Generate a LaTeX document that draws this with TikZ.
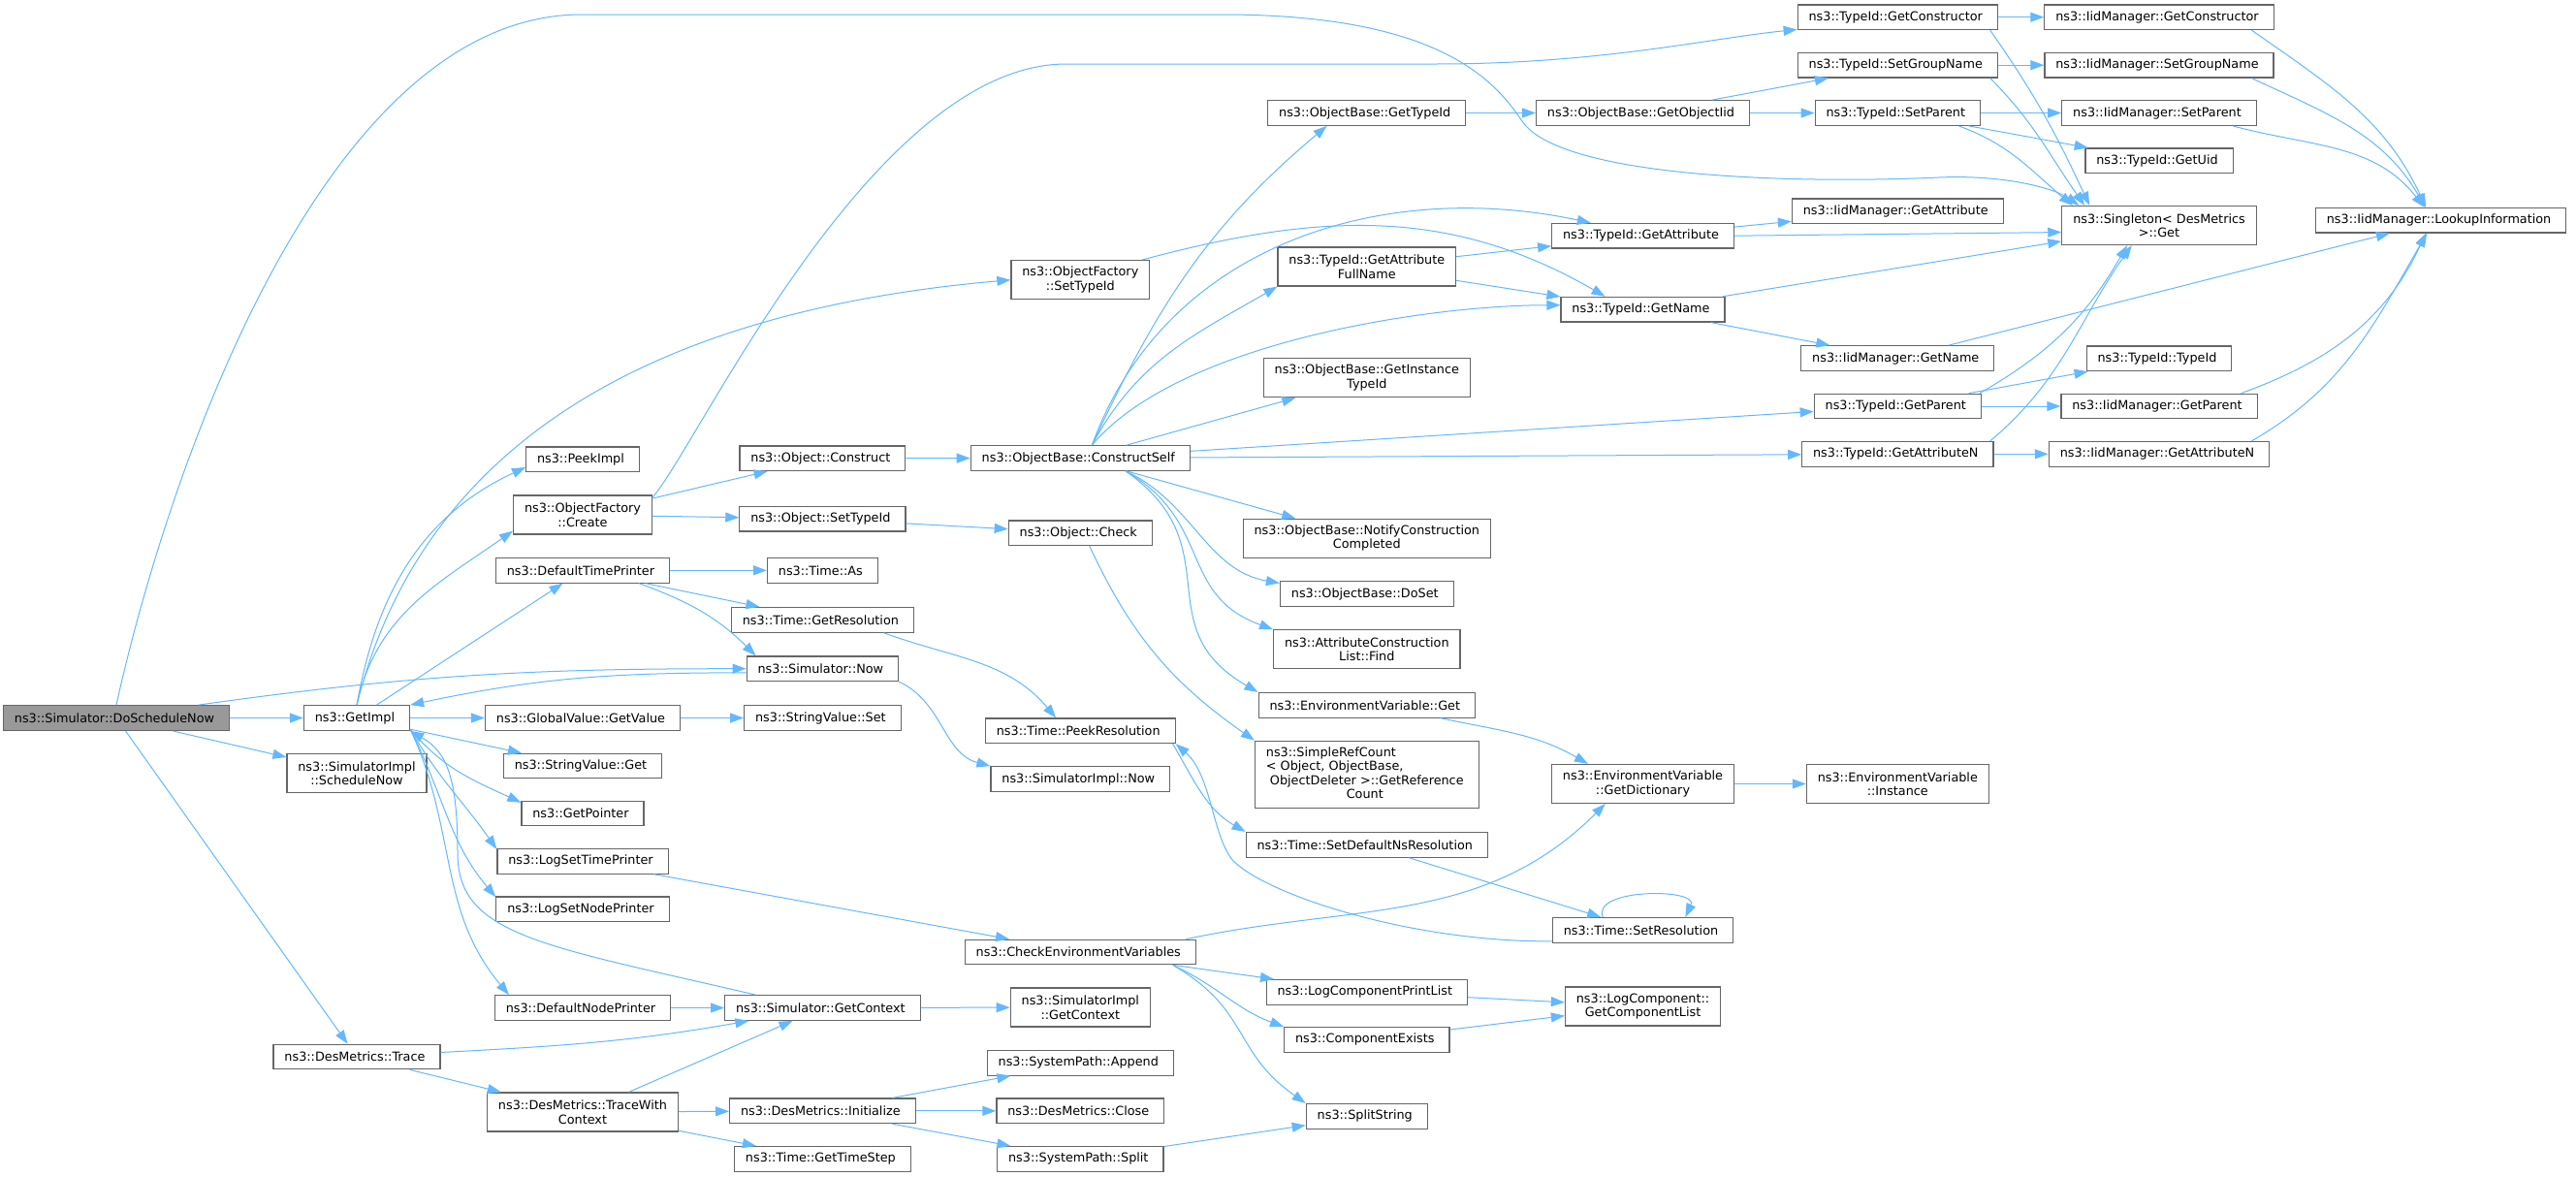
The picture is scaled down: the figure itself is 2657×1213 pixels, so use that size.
\documentclass[tikz,border=0pt]{standalone}
\usepackage{fontspec}
\setmainfont{DejaVu Sans}
\usetikzlibrary{arrows.meta}

\begin{document}
\begin{tikzpicture}[x=1pt,y=1pt,
    fnbox/.style={shape=rectangle,draw=cg_border,line width=1.2pt,fill=white,inner xsep=11.4pt,inner ysep=1pt,minimum height=25.6pt,align=center,font=\fontsize{12.8}{14.5}\selectfont},
    fnboxB/.style={fnbox,minimum height=40pt},
    fnboxD/.style={fnbox,minimum height=69.4pt},
    rootbox/.style={fnbox,fill=cg_root},
    call/.style={draw=cg_edge,line width=1pt,-{Triangle[length=14pt,width=10pt]}}]
    \definecolor{cg_edge}{RGB}{99,184,255}
    \definecolor{cg_border}{RGB}{102,102,102}
    \definecolor{cg_root}{RGB}{153,153,153}
    \useasboundingbox (0,0) rectangle (2657,-1213);
    \node[rootbox] (dsn)        at (120,-740.5)    { ns3::Simulator::DoScheduleNow };
    \node[fnbox]   (getimpl)    at (368,-740.5)    { ns3::GetImpl };
    \node[fnboxB]  (schednow)   at (368,-797.7)    { ns3::SimulatorImpl\\::ScheduleNow };
    \node[fnbox]   (dmtrace)    at (368,-1090)     { ns3::DesMetrics::Trace };
    \node[fnbox]   (peekimpl)   at (601,-473.7)    { ns3::PeekImpl };
    \node[fnboxB]  (ofcreate)   at (601,-531)      { ns3::ObjectFactory\\::Create };
    \node[fnbox]   (dtprinter)  at (601,-588.3)    { ns3::DefaultTimePrinter };
    \node[fnbox]   (gvget)      at (601,-740.5)    { ns3::GlobalValue::GetValue };
    \node[fnbox]   (svget)      at (601,-790)      { ns3::StringValue::Get };
    \node[fnbox]   (getptr)     at (601,-839)      { ns3::GetPointer };
    \node[fnbox]   (lstp)       at (601,-888.3)    { ns3::LogSetTimePrinter };
    \node[fnbox]   (lsnp)       at (601,-937.8)    { ns3::LogSetNodePrinter };
    \node[fnbox]   (dnprinter)  at (601,-1039.5)   { ns3::DefaultNodePrinter };
    \node[fnboxB]  (twc)        at (601,-1147)     { ns3::DesMetrics::TraceWith\\Context };
    \node[fnbox]   (oconstruct) at (848.4,-472.7)  { ns3::Object::Construct };
    \node[fnbox]   (osettid)    at (848.4,-535.2)  { ns3::Object::SetTypeId };
    \node[fnbox]   (timeas)     at (848.4,-588.3)  { ns3::Time::As };
    \node[fnbox]   (getres)     at (848.4,-639.3)  { ns3::Time::GetResolution };
    \node[fnbox]   (simnow)     at (848.4,-689.7)  { ns3::Simulator::Now };
    \node[fnbox]   (svset)      at (848.4,-740.5)  { ns3::StringValue::Set };
    \node[fnbox]   (getctx)     at (848.4,-1039.5) { ns3::Simulator::GetContext };
    \node[fnbox]   (dminit)     at (848.4,-1145.8) { ns3::DesMetrics::Initialize };
    \node[fnbox]   (timestep)   at (848.4,-1195.3) { ns3::Time::GetTimeStep };
    \node[fnboxB]  (ofsettid)   at (1114.3,-288.7) { ns3::ObjectFactory\\::SetTypeId };
    \node[fnbox]   (cself)      at (1114.3,-472.5) { ns3::ObjectBase::ConstructSelf };
    \node[fnbox]   (ocheck)     at (1114.3,-549.7) { ns3::Object::Check };
    \node[fnbox]   (peekres)    at (1114.3,-753.8) { ns3::Time::PeekResolution };
    \node[fnbox]   (siminow)    at (1114.3,-803.5) { ns3::SimulatorImpl::Now };
    \node[fnbox]   (checkenv)   at (1114.3,-982)   { ns3::CheckEnvironmentVariables };
    \node[fnboxB]  (simictx)    at (1114.3,-1039)  { ns3::SimulatorImpl\\::GetContext };
    \node[fnbox]   (spappend)   at (1114.3,-1096.3){ ns3::SystemPath::Append };
    \node[fnbox]   (dmclose)    at (1114.3,-1145.8){ ns3::DesMetrics::Close };
    \node[fnbox]   (spsplit)    at (1114.3,-1195.3){ ns3::SystemPath::Split };
    \node[fnbox]   (obgettid)   at (1409.8,-116.5) { ns3::ObjectBase::GetTypeId };
    \node[fnboxB]  (attrfull)   at (1409.8,-275)   { ns3::TypeId::GetAttribute\\FullName };
    \node[fnboxB]  (instid)     at (1409.8,-389.7) { ns3::ObjectBase::GetInstance\\TypeId };
    \node[fnboxB]  (notify)     at (1409.8,-555.2) { ns3::ObjectBase::NotifyConstruction\\Completed };
    \node[fnbox]   (doset)      at (1409.8,-612.5) { ns3::ObjectBase::DoSet };
    \node[fnboxB]  (aclfind)    at (1409.8,-669.8) { ns3::AttributeConstruction\\List::Find };
    \node[fnbox]   (envget)     at (1409.8,-727.3) { ns3::EnvironmentVariable::Get };
    \node[fnboxD]  (refcount)   at (1409.8,-799)   { \begin{tabular}{@{}l@{}}ns3::SimpleRefCount\\< Object, ObjectBase,\\\ ObjectDeleter >::GetReference\\\multicolumn{1}{@{}c@{}}{Count}\end{tabular} };
    \node[fnbox]   (setdefres)  at (1409.8,-871.3) { ns3::Time::SetDefaultNsResolution };
    \node[fnbox]   (lcprint)    at (1409.8,-1023.3){ ns3::LogComponentPrintList };
    \node[fnbox]   (compexists) at (1409.8,-1072.3){ ns3::ComponentExists };
    \node[fnbox]   (splitstr)   at (1409.8,-1151.3){ ns3::SplitString };
    \node[fnbox]   (getobjiid)  at (1694.5,-116.5) { ns3::ObjectBase::GetObjectIid };
    \node[fnbox]   (tgetattr)   at (1694.5,-243.2) { ns3::TypeId::GetAttribute };
    \node[fnbox]   (tgetname)   at (1694.5,-319.2) { ns3::TypeId::GetName };
    \node[fnboxB]  (getdict)    at (1694.5,-808.5) { ns3::EnvironmentVariable\\::GetDictionary };
    \node[fnbox]   (setres)     at (1694.5,-959.3) { ns3::Time::SetResolution };
    \node[fnboxB]  (getcomplist) at (1694.5,-1038) { ns3::LogComponent::\\GetComponentList };
    \node[fnbox]   (tgetctor)   at (1957.3,-17.7)  { ns3::TypeId::GetConstructor };
    \node[fnbox]   (tsetgroup)  at (1957.3,-67.2)  { ns3::TypeId::SetGroupName };
    \node[fnbox]   (tsetparent) at (1957.3,-116.5) { ns3::TypeId::SetParent };
    \node[fnbox]   (igetattr)   at (1957.3,-217.8) { ns3::IidManager::GetAttribute };
    \node[fnbox]   (igetname)   at (1957.3,-369.5) { ns3::IidManager::GetName };
    \node[fnbox]   (tgetparent) at (1957.3,-419)   { ns3::TypeId::GetParent };
    \node[fnbox]   (tgetattrn)  at (1957.3,-468.3) { ns3::TypeId::GetAttributeN };
    \node[fnboxB]  (envinst)    at (1957.3,-808.5) { ns3::EnvironmentVariable\\::Instance };
    \node[fnbox]   (igetctor)   at (2227,-17.7)    { ns3::IidManager::GetConstructor };
    \node[fnbox]   (isetgroup)  at (2227,-67.2)    { ns3::IidManager::SetGroupName };
    \node[fnbox]   (isetparent) at (2227,-116.5)   { ns3::IidManager::SetParent };
    \node[fnbox]   (getuid)     at (2227,-165.8)   { ns3::TypeId::GetUid };
    \node[fnboxB]  (singleton)  at (2227,-232.5)   { ns3::Singleton< DesMetrics\\ >::Get };
    \node[fnbox]   (ttypeid)    at (2227,-369.8)   { ns3::TypeId::TypeId };
    \node[fnbox]   (igetparent) at (2227,-419)     { ns3::IidManager::GetParent };
    \node[fnbox]   (igetattrn)  at (2227,-468.3)   { ns3::IidManager::GetAttributeN };
    \node[fnbox]   (lookup)     at (2517.6,-227.2) { ns3::IidManager::LookupInformation };

    \draw[call] (dsn) -- (getimpl);
    \draw[call] (dsn) -- (schednow);
    \draw[call] (dsn) -- (dmtrace);
    \draw[call] (dsn.9) to[out=8,in=180] (simnow.west);
    \draw[call] (dsn.north) .. controls (170,-500) and (330,-15) .. (600,-15) -- (1260,-15) .. controls (1480,-15) and (1540,-80) .. (1570,-125) .. controls (1609,-183) and (1850,-190) .. (2000,-183) .. controls (2070,-180) and (2120,-195) .. (singleton.166);
    \draw[call] (getimpl.north) to[out=80,in=205] (peekimpl.188);
    \draw[call] (getimpl.north) to[out=78,in=215] (ofcreate.193);
    \draw[call] (getimpl.north) to[out=76,in=185] (ofsettid.west);
    \draw[call] (getimpl) -- (dtprinter);
    \draw[call] (getimpl) -- (gvget);
    \draw[call] (getimpl) -- (svget);
    \draw[call] (getimpl.-12) to[out=-50,in=155] (getptr.170);
    \draw[call] (getimpl.-12) to[out=-60,in=125] (lstp.172);
    \draw[call] (getimpl.-12) to[out=-63,in=130] (lsnp.172);
    \draw[call] (getimpl.-12) to[out=-65,in=130] (dnprinter.170);
    \draw[call] (dtprinter) -- (timeas);
    \draw[call] (dtprinter) -- (getres);
    \draw[call] (dtprinter.-13) to[out=-20,in=135] (simnow.169);
    \draw[call] (ofcreate) -- (oconstruct);
    \draw[call] (ofcreate) -- (osettid);
    \draw[call] (ofcreate.14) .. controls (720,-460) and (900,-66) .. (1100,-66) -- (1480,-66) .. controls (1650,-66) and (1760,-40) .. (tgetctor.187);
    \draw[call] (oconstruct) -- (cself);
    \draw[call] (osettid) -- (ocheck);
    \draw[call] (ocheck.-55) to[out=-65,in=145] (refcount.north west);
    \draw[call] (getres.-12) to[out=-20,in=130] (peekres.152);
    \draw[call] (simnow.south east) to[out=-25,in=165] (siminow.north west);
    \draw[call] (simnow.183) to[out=180,in=12] (getimpl.north east);
    \draw[call] (gvget) -- (svset);
    \draw[call] (lstp) -- (checkenv);
    \draw[call] (dnprinter) -- (getctx);
    \draw[call] (getctx) -- (simictx);
    \draw[call] (getctx.169) .. controls (560,-975) and (472,-965) .. (472,-880) .. controls (472,-800) and (460,-775) .. (getimpl.south east);
    \draw[call] (dmtrace.3) to[out=3,in=190] (getctx.190);
    \draw[call] (dmtrace) -- (twc);
    \draw[call] (twc) -- (getctx);
    \draw[call] (twc) -- (dminit);
    \draw[call] (twc) -- (timestep);
    \draw[call] (dminit) -- (spappend);
    \draw[call] (dminit) -- (dmclose);
    \draw[call] (dminit) -- (spsplit);
    \draw[call] (spsplit) -- (splitstr);
    \draw[call] (checkenv.7) to[out=12,in=-135] (getdict.208);
    \draw[call] (checkenv) -- (lcprint);
    \draw[call] (checkenv.-8) to[out=-25,in=160] (compexists.north west);
    \draw[call] (checkenv.-8) to[out=-30,in=145,looseness=1.2] (splitstr.north west);
    \draw[call] (lcprint) -- (getcomplist);
    \draw[call] (compexists) -- (getcomplist);
    \draw[call] (peekres.-8) to[out=-60,in=150] (setdefres.north west);
    \draw[call] (setres.187) .. controls (1460,-972) and (1310,-925) .. (1272,-888) .. controls (1250,-862) and (1250,-800) .. (peekres.south east);
    \draw[call] (setdefres) -- (setres);
    \draw[call] (setres.162) .. controls +(-12,30) and +(14,30) .. (setres.17);
    \draw[call] (envget.-10) to[out=-12,in=150] (getdict.160);
    \draw[call] (getdict) -- (envinst);
    \draw[call] (cself.48) to[out=65,in=-140] (obgettid.198);
    \draw[call] (cself.48) to[out=70,in=168] (tgetattr.166);
    \draw[call] (cself.48) to[out=62,in=-150] (attrfull.south west);
    \draw[call] (cself.48) to[out=50,in=180,looseness=0.7] (tgetname.177);
    \draw[call] (cself) -- (instid);
    \draw[call] (cself) -- (tgetparent);
    \draw[call] (cself) -- (tgetattrn);
    \draw[call] (cself) -- (notify);
    \draw[call] (cself.-16) to[out=-25,in=170] (doset.173);
    \draw[call] (cself.-16) to[out=-30,in=160,looseness=1.2] (aclfind.north west);
    \draw[call] (cself.-16) to[out=-35,in=150,looseness=1.3] (envget.north west);
    \draw[call] (ofsettid.18) to[out=15,in=150] (tgetname.161);
    \draw[call] (obgettid) -- (getobjiid);
    \draw[call] (getobjiid) -- (tsetgroup);
    \draw[call] (getobjiid) -- (tsetparent);
    \draw[call] (tgetctor) -- (igetctor);
    \draw[call] (tsetgroup) -- (isetgroup);
    \draw[call] (tsetparent) -- (isetparent);
    \draw[call] (tsetparent) -- (getuid);
    \draw[call] (tgetctor.-8) to[out=-55,in=115] (singleton.164);
    \draw[call] (tsetgroup.-8) to[out=-45,in=125] (singleton.165);
    \draw[call] (tsetparent.-12) to[out=-20,in=140] (singleton.167);
    \draw[call] (igetctor.-8) to[out=-35,in=115] (lookup.139);
    \draw[call] (isetgroup.-8) to[out=-25,in=120] (lookup.140);
    \draw[call] (isetparent.-10) to[out=-15,in=128] (lookup.142);
    \draw[call] (tgetattr) -- (igetattr);
    \draw[call] (tgetattr.east) -- (singleton.184);
    \draw[call] (attrfull) -- (tgetattr);
    \draw[call] (attrfull) -- (tgetname);
    \draw[call] (tgetname) -- (singleton);
    \draw[call] (tgetname) -- (igetname);
    \draw[call] (igetname) -- (lookup);
    \draw[call] (tgetparent) -- (ttypeid);
    \draw[call] (tgetparent) -- (igetparent);
    \draw[call] (tgetparent.9) to[out=30,in=-120] (singleton.212);
    \draw[call] (tgetattrn) -- (igetattrn);
    \draw[call] (tgetattrn.8) to[out=40,in=-125] (singleton.216);
    \draw[call] (igetparent.9) to[out=20,in=-115] (lookup.221);
    \draw[call] (igetattrn.8) to[out=30,in=-120] (lookup.223);
\end{tikzpicture}
\end{document}
